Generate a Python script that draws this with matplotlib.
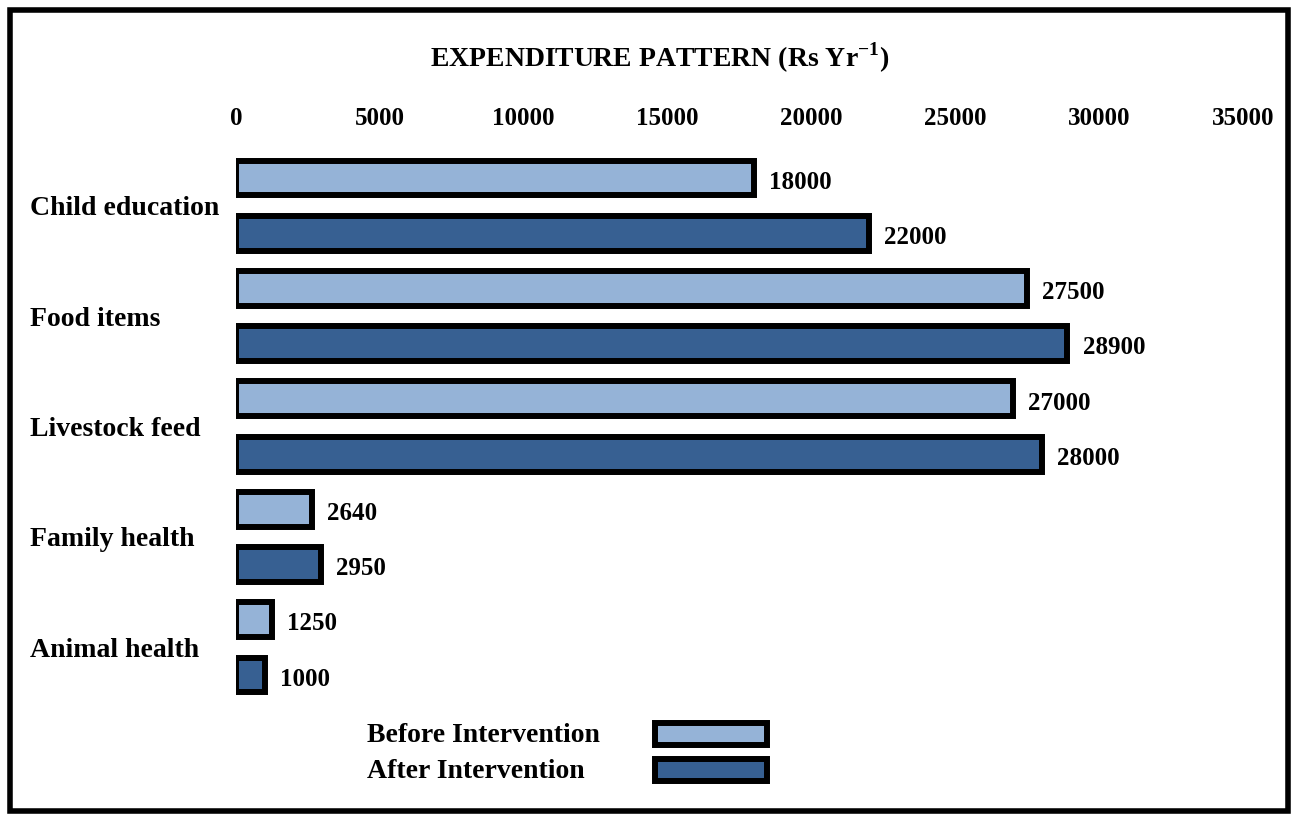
import matplotlib
matplotlib.use("Agg")
import matplotlib.pyplot as plt
from matplotlib.patches import Rectangle

categories = ["Child education", "Food items", "Livestock feed", "Family health", "Animal health"]
before = [18000, 27500, 27000, 2640, 1250]
after = [22000, 28900, 28000, 2950, 1000]
series_names = ["Before Intervention", "After Intervention"]
xticks = [0, 5000, 10000, 15000, 20000, 25000, 30000, 35000]

LIGHT = "#95B3D7"
DARK = "#376092"

plt.rcParams.update({
    "font.family": ["Liberation Serif", "DejaVu Serif"],
    "font.weight": "bold",
    "mathtext.fontset": "custom",
    "mathtext.rm": "Liberation Serif:bold",
    "mathtext.bf": "Liberation Serif:bold",
})

W, H = 1293, 816
fig = plt.figure(figsize=(W / 100, H / 100), dpi=100)
fig.patch.set_facecolor("white")

# axes box in pixels: left 236, right 1243, top 140, bottom 715
ax = fig.add_axes([236 / W, 1 - 715 / H, (1243 - 236) / W, (715 - 140) / H])

pos_before = [2 * i for i in range(len(categories))]
pos_after = [2 * i + 1 for i in range(len(categories))]
bh = 0.63
lw = 4.3

bars_b = ax.barh(pos_before, before, height=bh, color=LIGHT, edgecolor="black", linewidth=lw)
bars_a = ax.barh(pos_after, after, height=bh, color=DARK, edgecolor="black", linewidth=lw)

for bars, vals in ((bars_b, before), (bars_a, after)):
    for b, v in zip(bars, vals):
        ax.annotate(f"{v}", xy=(v, b.get_y() + b.get_height() / 2), xytext=(11, -3),
                    textcoords="offset points", ha="left", va="center",
                    fontsize=18, fontweight="bold")

ax.set_xlim(0, 35000)
ax.set_ylim(9 + 40 / 55.2, -38 / 55.2)
ax.xaxis.tick_top()
ax.set_xticks(xticks)
ax.set_xticklabels([str(t) for t in xticks], fontsize=18, fontweight="bold")
ax.set_yticks([2 * i + 0.5 for i in range(len(categories))])
ax.set_yticklabels(categories, fontsize=20, fontweight="bold")
for lab in ax.get_yticklabels():
    lab.set_horizontalalignment("left")
ax.tick_params(axis="x", length=0, pad=7)
ax.tick_params(axis="y", length=0, pad=(236 - 30) * 0.72)
for s in ax.spines.values():
    s.set_visible(False)

fig.text(660 / W, 1 - 58 / H, r"EXPENDITURE PATTERN (Rs Yr$^{\mathbf{-1}}$)",
         ha="center", va="center", fontsize=20, fontweight="bold")

# legend, drawn by hand so the swatches line up
for i, (name, col) in enumerate(zip(series_names, (LIGHT, DARK))):
    yc = 734 + i * 36
    fig.text(367 / W, 1 - (yc + 2) / H, name, ha="left", va="center", fontsize=20, fontweight="bold")
    fig.add_artist(Rectangle((655 / W, 1 - (yc + 11) / H), 112 / W, 22 / H,
                             transform=fig.transFigure, facecolor=col,
                             edgecolor="black", linewidth=lw))

# outer frame
fig.add_artist(Rectangle((10 / W, 1 - 811 / H), 1278 / W, 801 / H, transform=fig.transFigure,
                         fill=False, edgecolor="black", linewidth=4))

fig.savefig("out.png", dpi=100)
